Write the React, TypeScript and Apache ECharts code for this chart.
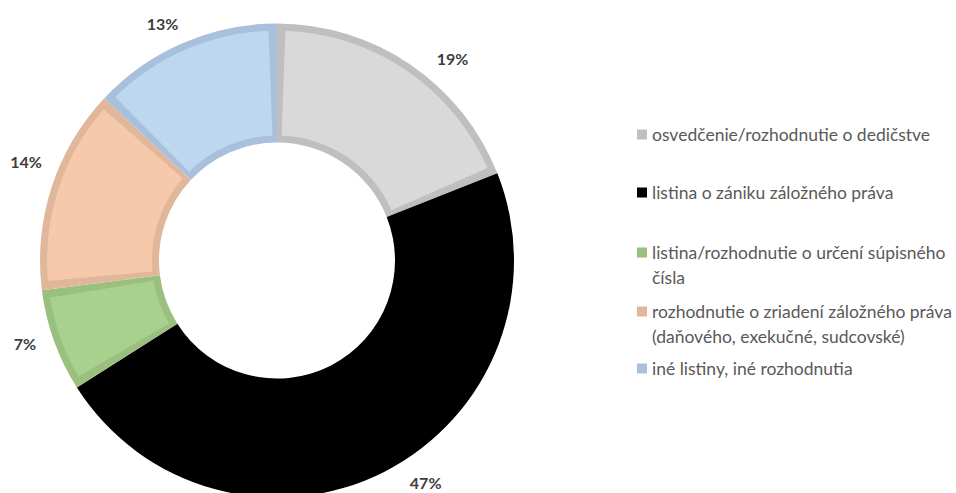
import React, { useEffect, useRef } from "react";
import * as echarts from "echarts";

const categories = [
  "osvedčenie/rozhodnutie o dedičstve",
  "listina o zániku záložného práva",
  "listina/rozhodnutie o určení súpisného čísla",
  "rozhodnutie o zriadení záložného práva (daňového, exekučné, sudcovské)",
  "iné listiny, iné rozhodnutia",
];
const values = [19, 47, 7, 14, 13];
// legend text split into its displayed lines
const legendFirstLines = [
  "osvedčenie/rozhodnutie o dedičstve",
  "listina o zániku záložného práva",
  "listina/rozhodnutie o určení súpisného",
  "rozhodnutie o zriadení záložného práva",
  "iné listiny, iné rozhodnutia",
];
const legendSecondLines = ["", "", "čísla", "(daňového, exekučné, sudcovské)", ""];
const fillColors = ["#d9d9d9", "#000000", "#a9d18e", "#f5c9aa", "#bdd7ee"];
const edgeColors = ["#bfbfbf", "#000000", "#9bbf7f", "#e0b79a", "#a8c0dc"];
const labelNudges = [
  [25, 19.5],
  [27, -17],
  [0, -7.5],
  [4, -16],
  [-8, 8.5],
];
const legendRowCenters = [134.5, 192.5, 252.5, 311.5, 368.5];

const FONT = "Lato";
const LEGEND_SIZE = 17.5;
const LEGEND_LINE = 25;

export default function App() {
  const ref = useRef<HTMLDivElement>(null);
  useEffect(() => {
    if (!ref.current) return;
    const chart = echarts.init(ref.current, undefined, { renderer: "svg" });
    const center = [277, 260.5];
    const option: any = {
      animation: false,
      backgroundColor: "#ffffff",
      legend: categories.map((name, i) => ({
        orient: "vertical",
        left: 637,
        top: legendRowCenters[i] - LEGEND_LINE / 2,
        padding: 0,
        data: [name],
        icon: "rect",
        itemWidth: 10,
        itemHeight: 10,
        itemGap: 0,
        selectedMode: false,
        formatter: () => legendFirstLines[i],
        textStyle: {
          fontFamily: FONT,
          fontSize: LEGEND_SIZE,
          color: "#595959",
          lineHeight: LEGEND_LINE,
        },
      })),
      graphic: legendSecondLines
        .map((t, i) => ({ t, i }))
        .filter((o) => o.t)
        .map((o) => ({
          type: "text",
          left: 652,
          top: legendRowCenters[o.i] + LEGEND_LINE / 2,
          silent: true,
          style: {
            text: o.t,
            fontFamily: FONT,
            fontSize: LEGEND_SIZE,
            fill: "#595959",
            lineHeight: LEGEND_LINE,
          },
        })),
      series: [
        {
          type: "pie",
          silent: true,
          center,
          radius: [118, 237],
          startAngle: 90,
          clockwise: true,
          label: { show: false },
          labelLine: { show: false },
          data: categories.map((name, i) => ({
            name,
            value: values[i],
            itemStyle: { color: edgeColors[i] },
          })),
        },
        {
          type: "pie",
          silent: true,
          center,
          radius: [125, 230],
          startAngle: 90,
          clockwise: true,
          padAngle: 4.2,
          label: { show: false },
          labelLine: { show: false },
          data: categories.map((name, i) => ({
            name,
            value: values[i],
            itemStyle: { color: fillColors[i] },
          })),
        },
        {
          type: "pie",
          silent: true,
          center,
          radius: [252, 278],
          startAngle: 90,
          clockwise: true,
          itemStyle: { color: "transparent" },
          label: {
            show: true,
            position: "inside",
            formatter: "{d}%",
            fontFamily: FONT,
            fontSize: 16,
            fontWeight: "bold",
            color: "#404040",
          },
          labelLine: { show: false },
          labelLayout: (p: any) => ({
            dx: labelNudges[p.dataIndex][0],
            dy: labelNudges[p.dataIndex][1],
          }),
          data: categories.map((name, i) => ({ name, value: values[i] })),
        },
      ],
    };
    chart.setOption(option);
    return () => chart.dispose();
  }, []);
  return (
    <div
      ref={ref}
      style={{ position: "fixed", left: 0, top: 0, width: 956, height: 493 }}
    />
  );
}
